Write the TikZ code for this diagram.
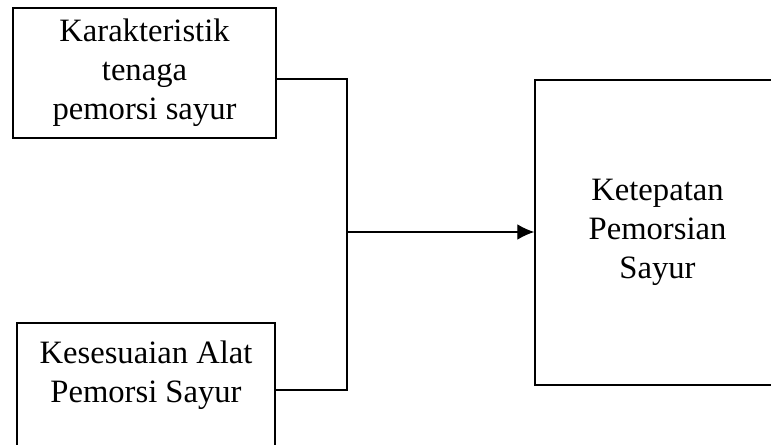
\documentclass[tikz,border=0pt]{standalone}
\usepackage{fontspec}
\setmainfont{Liberation Serif}
\usetikzlibrary{arrows.meta,calc}

\begin{document}
\begin{tikzpicture}[
    x=0.025cm, y=-0.025cm,
    var box/.style={rectangle, draw=black, line width=1pt, inner sep=0pt, align=center,
        font=\fontsize{23.2}{27.6}\selectfont},
    var text/.style={inner sep=0pt, align=center, font=\fontsize{23.2}{27.6}\selectfont},
    link/.style={draw=black, line width=0.8pt},
    flow/.style={link, -{Latex[length=12pt, width=11pt]}}
]
\useasboundingbox (0,0) rectangle (771,445);
\clip (0,0) rectangle (771,445);

% variabel bebas (kiri) dan variabel terikat (kanan)
\node[var box, minimum width=6.575cm, minimum height=3.25cm] (karakter) at (144.5, 73)
    {Karakteristik\\tenaga\\pemorsi sayur};
\node[var box, minimum width=6.45cm, minimum height=3.7cm] (alat) at (146, 397) {};
\node[var text, anchor=north] (alattxt) at ([yshift=-0.45cm]alat.north)
    {Kesesuaian Alat\\Pemorsi Sayur};
\node[var box, minimum width=6.125cm, minimum height=7.625cm] (tepat) at (657.5, 232.5)
    {Ketepatan\\Pemorsian\\Sayur};

% titik sambung
\coordinate (j1) at (347, 79);
\coordinate (j2) at (347, 390);
\coordinate (jm) at (347, 232);

\draw[link] (karakter.east |- j1) -- (j1) -- (j2) -- (alat.east |- j2);
\draw[flow] (jm) -- (tepat.west |- jm);

\end{tikzpicture}
\end{document}
